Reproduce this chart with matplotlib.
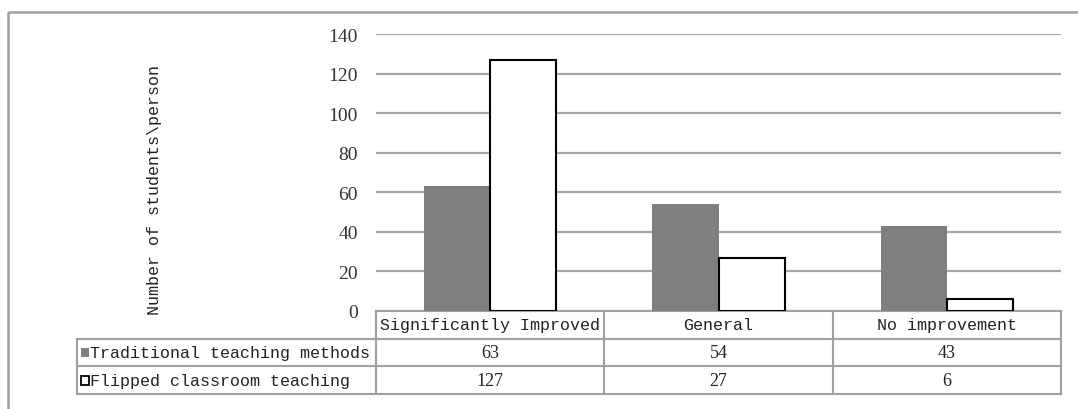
import matplotlib
matplotlib.use("Agg")
import matplotlib.pyplot as plt
from matplotlib.patches import Rectangle

categories = ["Significantly Improved", "General", "No improvement"]
series_names = ["Traditional teaching methods", "Flipped classroom teaching"]
traditional = [63, 54, 43]
flipped = [127, 27, 6]
yticks = [0, 20, 40, 60, 80, 100, 120, 140]

W, H = 1078, 410
MONO = "Liberation Mono"
SERIF = "Liberation Serif"
TXT = "#222222"
GRID = "#a6a6a6"
EDGE = "#a0a0a0"
BAR_GRAY = "#7f7f7f"

# layout in pixels (top-left origin)
plot_l, plot_r = 376, 1061
plot_t, plot_b = 35, 312
lab_l = 77
row_h = 27.7

fig = plt.figure(figsize=(W / 100, H / 100), dpi=100)

# full-figure overlay in pixel units for the frame and the data table
ov = fig.add_axes([0, 0, 1, 1], zorder=0)
ov.set_xlim(0, W)
ov.set_ylim(H, 0)
ov.axis("off")

ax = fig.add_axes([plot_l / W, 1 - plot_b / H,
                   (plot_r - plot_l) / W, (plot_b - plot_t) / H], zorder=1)
ax.patch.set_alpha(0)

n = len(categories)
xs = list(range(n))
bw = 0.29
ax.bar([x - bw / 2 for x in xs], traditional, width=bw, color=BAR_GRAY,
       edgecolor="none", zorder=3)
ax.bar([x + bw / 2 for x in xs], flipped, width=bw, facecolor="white",
       edgecolor="black", linewidth=1.5, zorder=3)

ax.set_xlim(-0.5, n - 0.5)
ax.set_ylim(0, 140)
ax.set_yticks(yticks)
ax.set_yticklabels([str(t) for t in yticks], fontsize=14, family=SERIF,
                   color="#333333")
ax.tick_params(axis="y", length=0, pad=13)
ax.set_xticks([])
ax.yaxis.grid(True, color=GRID, linewidth=1.6)
ax.set_axisbelow(True)
for s in ax.spines.values():
    s.set_visible(False)

fig.text(155 / W, 1 - 190 / H, "Number of students\\person", rotation=90,
         ha="center", va="center", fontsize=12, family=MONO, color=TXT)

# outer frame (only top and left edges fall inside the canvas)
ov.add_patch(Rectangle((8, 13), W + 20, H + 20, facecolor="none",
                       edgecolor="#a0a0a0", linewidth=1.8))

# data table under the plot
col_w = (plot_r - plot_l) / n
t0 = plot_b
t1 = t0 + row_h
t2 = t1 + row_h
t3 = t2 + row_h
lw = 1.5
ov.plot([plot_l, plot_r], [t0, t0], color=EDGE, lw=lw)
ov.plot([lab_l, plot_r], [t1, t1], color=EDGE, lw=lw)
ov.plot([lab_l, plot_r], [t2, t2], color=EDGE, lw=lw)
ov.plot([lab_l, plot_r], [t3, t3], color=EDGE, lw=lw)
ov.plot([lab_l, lab_l], [t1, t3], color=EDGE, lw=lw)
for i in range(n + 1):
    x = plot_l + i * col_w
    ov.plot([x, x], [t0, t3], color=EDGE, lw=lw)

for i, cat in enumerate(categories):
    cx = plot_l + (i + 0.5) * col_w
    ov.text(cx, (t0 + t1) / 2, cat, ha="center", va="center", fontsize=12,
            family=MONO, color=TXT)
    ov.text(cx, (t1 + t2) / 2, str(traditional[i]), ha="center", va="center",
            fontsize=13, family=SERIF, color=TXT)
    ov.text(cx, (t2 + t3) / 2, str(flipped[i]), ha="center", va="center",
            fontsize=13, family=SERIF, color=TXT)

# row labels with legend keys
keys = [dict(facecolor=BAR_GRAY, edgecolor="none"),
        dict(facecolor="white", edgecolor="black", linewidth=1.3)]
for r, (name, style) in enumerate(zip(series_names, keys)):
    cy = t1 + (r + 0.5) * row_h
    ov.add_patch(Rectangle((81, cy - 4.5), 8, 9, **style))
    ov.text(90, cy, name, ha="left", va="center", fontsize=12, family=MONO,
            color=TXT)

fig.savefig("out.png", dpi=100)
